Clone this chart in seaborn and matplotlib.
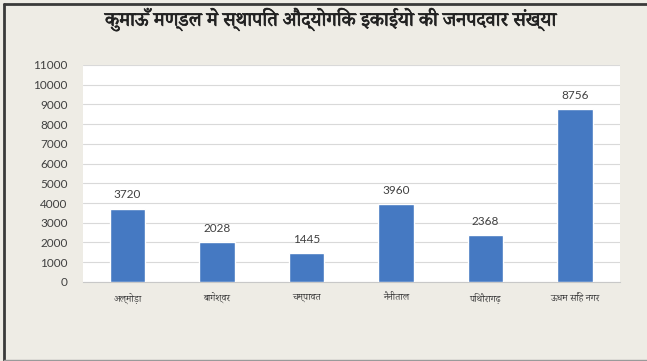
import matplotlib
matplotlib.use("Agg")
import matplotlib.pyplot as plt
from matplotlib import font_manager
from matplotlib import patheffects
from matplotlib.ft2font import FT2Font, LoadFlags
from matplotlib.lines import Line2D
import seaborn as sns
import pandas as pd

title = "कुमाऊँ मण्डल मे स्थापित औद्योगिक इकाईयो की जनपदवार संख्या"
districts = ["अल्मोड़ा", "बागेश्वर", "चम्पावत", "नैनीताल", "पिथौरागढ़", "ऊधम सिंह नगर"]
units = [3720, 2028, 1445, 3960, 2368, 8756]
y_ticks = list(range(0, 11001, 1000))

sns.set_theme(style="whitegrid")


def devanagari_family():
    """Pick an installed Devanagari font, preferring narrow combining marks."""
    best = None
    for path in font_manager.findSystemFonts():
        try:
            font = FT2Font(path)
            cmap = font.get_charmap()
            if 0x0915 not in cmap or 0x094D not in cmap:
                continue
            g = font.load_char(0x094D, flags=LoadFlags.NO_SCALE)
            halant = g.horiAdvance
            name = font_manager.FontProperties(fname=path).get_name()
            score = (halant, 0 if "Noto" in name else 1, "Bold" in path)
            if best is None or score < best[0]:
                best = (score, name)
        except Exception:
            continue
    return best[1] if best else None


deva = devanagari_family()
deva_families = ([deva] if deva else []) + ["DejaVu Sans"]
num_family = ["Lato", "DejaVu Sans"]
plt.rcParams["font.family"] = num_family

bg = "#eeece5"
bar_color = "#4579c2"
text_color = "#404040"

df = pd.DataFrame({"district": districts, "units": units})

fig = plt.figure(figsize=(6.47, 3.61), dpi=100, facecolor=bg)
ax = fig.add_axes([0.128, 0.219, 0.830, 0.601])
ax.set_facecolor("white")

sns.barplot(data=df, x="district", y="units", color=bar_color, width=0.4,
            saturation=1, ax=ax, zorder=3)

ax.set_ylim(0, 11000)
ax.set_yticks(y_ticks)
ax.set_yticklabels([str(t) for t in y_ticks])
ax.set_xlim(-0.5, len(districts) - 0.5)
ax.set_xlabel("")
ax.set_ylabel("")
ax.grid(axis="y", color="#d9d9d9", linewidth=0.8, zorder=0)
ax.grid(axis="x", visible=False)
for side in ["top", "right", "left"]:
    ax.spines[side].set_visible(False)
ax.spines["bottom"].set_color("#c8c8c8")
ax.spines["bottom"].set_linewidth(0.8)
ax.tick_params(axis="y", length=0, colors=text_color, labelsize=8.5, pad=11)
ax.tick_params(axis="x", length=0, colors=text_color, pad=8)
for lbl in ax.get_xticklabels():
    lbl.set_family(deva_families)
    lbl.set_fontsize(7)

for container in ax.containers:
    ax.bar_label(container, labels=[str(v) for v in units], padding=6,
                 fontsize=8.5, color=text_color)

title_text = fig.text(0.51, 0.945, title, ha="center", va="center",
                      fontsize=12, color="#222222", fontweight="bold",
                      family=deva_families)
title_text.set_path_effects([patheffects.withStroke(linewidth=0.5,
                                                    foreground="#222222")])

# Scale Devanagari texts so their widths match the chart's layout
fig.canvas.draw()
renderer = fig.canvas.get_renderer()


def fit_width(artist, target_px):
    w = artist.get_window_extent(renderer).width
    if w > 0:
        artist.set_fontsize(artist.get_fontsize() * target_px / w)


fit_width(title_text, 450)
widest = max(l.get_window_extent(renderer).width for l in ax.get_xticklabels())
scale = min(1.0, 72 / widest) if widest > 0 else 1.0
for lbl in ax.get_xticklabels():
    lbl.set_fontsize(lbl.get_fontsize() * scale)

# Outer frame of the chart
fig.add_artist(Line2D([0.006, 0.006], [0.003, 0.99], transform=fig.transFigure,
                      color="#3a3a3a", linewidth=2))
fig.add_artist(Line2D([0.006, 1.0], [0.99, 0.99], transform=fig.transFigure,
                      color="#3a3a3a", linewidth=2))
fig.add_artist(Line2D([0.006, 1.0], [0.004, 0.004], transform=fig.transFigure,
                      color="#9a9a9a", linewidth=1))

fig.savefig("out.png", dpi=100, facecolor=bg)
